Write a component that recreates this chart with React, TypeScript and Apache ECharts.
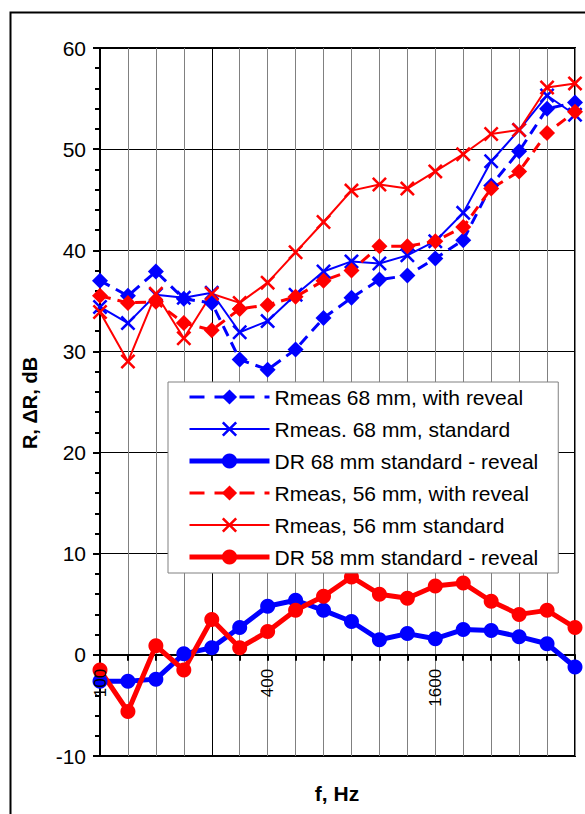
import React, { useEffect, useRef } from 'react';
import * as echarts from 'echarts';

const frequencies = ['100', '125', '160', '200', '250', '315', '400', '500', '630', '800', '1000', '1250', '1600', '2000', '2500', '3150', '4000', '5000'];
const xTickLabels = ['100', '400', '1600'];

const rmeas68Reveal = [37.0, 35.5, 37.9, 35.2, 34.8, 29.2, 28.2, 30.2, 33.3, 35.3, 37.1, 37.5, 39.2, 41.0, 46.4, 49.8, 54.0, 54.6];
const rmeas68Standard = [34.4, 32.8, 35.6, 35.3, 35.8, 31.9, 33.0, 35.6, 37.9, 38.9, 38.7, 39.5, 40.9, 43.7, 48.8, 51.9, 55.3, 53.4];
const dr68 = [-2.6, -2.6, -2.4, 0.1, 0.7, 2.7, 4.8, 5.4, 4.4, 3.3, 1.5, 2.1, 1.6, 2.5, 2.4, 1.8, 1.1, -1.2];
const rmeas56Reveal = [35.5, 34.8, 34.9, 32.8, 32.1, 34.2, 34.6, 35.4, 37.0, 38.0, 40.4, 40.4, 40.9, 42.3, 46.1, 47.8, 51.6, 53.7];
const rmeas56Standard = [33.9, 29.0, 35.7, 31.3, 35.7, 34.8, 36.8, 39.8, 42.8, 45.9, 46.5, 46.1, 47.8, 49.5, 51.5, 51.9, 56.1, 56.5];
const dr58 = [-1.5, -5.6, 0.9, -1.5, 3.5, 0.7, 2.3, 4.4, 5.8, 7.7, 6.0, 5.6, 6.8, 7.1, 5.3, 4.0, 4.4, 2.7];

const seriesNames = [
  'Rmeas 68 mm, with reveal',
  'Rmeas. 68 mm, standard',
  'DR 68 mm standard - reveal',
  'Rmeas, 56 mm, with reveal',
  'Rmeas, 56 mm standard',
  'DR 58 mm standard - reveal',
];

const yTicks = { min: -10, max: 60, interval: 10 };

const BLUE = '#0000FF';
const RED = '#FF0000';
const FONT = '"Liberation Sans", Arial, sans-serif';
const XSYM = 'path://M0,1.2L1.2,0L5,3.8L8.8,0L10,1.2L6.2,5L10,8.8L8.8,10L5,6.2L1.2,10L0,8.8L3.8,5Z';

const GRID_TOP = 48;
const GRID_BOTTOM = 58;
const CHART_H = 814;

export default function App() {
  const ref = useRef<HTMLDivElement>(null);

  useEffect(() => {
    if (!ref.current) return;
    const chart = echarts.init(ref.current, null, { renderer: 'svg' });

    const dashed = (name: string, data: number[], color: string) => ({
      name,
      type: 'line',
      data,
      symbol: 'diamond',
      symbolSize: 16,
      itemStyle: { color },
      lineStyle: { color, width: 3, type: [11, 7] },
    });
    const thin = (name: string, data: number[], color: string) => ({
      name,
      type: 'line',
      data,
      symbol: XSYM,
      symbolSize: 15,
      itemStyle: { color },
      lineStyle: { color, width: 2 },
    });
    const thick = (name: string, data: number[], color: string) => ({
      name,
      type: 'line',
      data,
      symbol: 'circle',
      symbolSize: 15,
      itemStyle: { color },
      lineStyle: { color, width: 5 },
    });

    const series: any[] = [
      dashed(seriesNames[0], rmeas68Reveal, BLUE),
      thin(seriesNames[1], rmeas68Standard, BLUE),
      thick(seriesNames[2], dr68, BLUE),
      dashed(seriesNames[3], rmeas56Reveal, RED),
      thin(seriesNames[4], rmeas56Standard, RED),
      thick(seriesNames[5], dr58, RED),
    ];
    series[0].markLine = {
      silent: true,
      symbol: 'none',
      label: { show: false },
      lineStyle: { color: '#000', width: 1, type: 'solid' },
      data: [{ xAxis: '250' }],
      z: 1,
    };

    const legendLine = [
      { width: 3, type: [15, 10] },
      { width: 2, type: 'solid' },
      { width: 5, type: 'solid' },
      { width: 3, type: [15, 10] },
      { width: 2, type: 'solid' },
      { width: 5, type: 'solid' },
    ];
    const legendColors = [BLUE, BLUE, BLUE, RED, RED, RED];

    // place the x axis on the value 0 of the y axis
    const plotH = CHART_H - GRID_TOP - GRID_BOTTOM;
    const zeroOffset = -((0 - yTicks.min) / (yTicks.max - yTicks.min)) * plotH;

    const baseGraphic: any[] = [
      {
        id: 'frame',
        type: 'rect',
        left: 8,
        top: 10,
        shape: { x: 0, y: 0, width: 700, height: 900 },
        style: { fill: 'none', stroke: '#000', lineWidth: 2 },
        silent: true,
        z: -10,
      },
      {
        id: 'yname',
        type: 'text',
        x: 30,
        y: 403,
        rotation: Math.PI / 2,
        style: {
          text: 'R, ΔR, dB',
          font: `bold 20px ${FONT}`,
          fill: '#000',
          textAlign: 'center',
          textVerticalAlign: 'middle',
        },
      },
      {
        id: 'xname',
        type: 'text',
        x: 337,
        y: 793,
        style: {
          text: 'f, Hz',
          font: `bold 21px ${FONT}`,
          fill: '#000',
          textAlign: 'center',
          textVerticalAlign: 'middle',
        },
      },
    ];

    chart.setOption({
      animation: false,
      textStyle: { fontFamily: FONT, color: '#000' },
      grid: {
        left: 100,
        right: 10,
        top: GRID_TOP,
        bottom: GRID_BOTTOM,
        show: true,
        borderColor: '#000',
        borderWidth: 2,
        backgroundColor: 'transparent',
      },
      xAxis: {
        type: 'category',
        data: frequencies,
        boundaryGap: false,
        offset: zeroOffset,
        axisLine: { show: true, onZero: false, lineStyle: { color: '#000', width: 2 } },
        axisTick: { show: true, interval: 0, length: 6, lineStyle: { color: '#000', width: 2 } },
        axisLabel: { show: false },
        splitLine: { show: true, interval: 0, lineStyle: { color: '#808080', width: 1 } },
      },
      yAxis: {
        type: 'value',
        min: yTicks.min,
        max: yTicks.max,
        interval: yTicks.interval,
        axisLine: { show: true, onZero: false, lineStyle: { color: '#000', width: 2 } },
        axisTick: { show: true, length: 7, lineStyle: { color: '#000', width: 2 } },
        minorTick: { show: true, splitNumber: 5, length: 5, lineStyle: { color: '#000', width: 2 } },
        axisLabel: { fontSize: 21, margin: 14, color: '#000', fontFamily: FONT },
        splitLine: { show: true, lineStyle: { color: '#000', width: 1 } },
      },
      legend: {
        data: seriesNames.map((name, i) => ({
          name,
          lineStyle: { color: legendColors[i], ...legendLine[i] },
          itemStyle: { color: legendColors[i] },
        })),
        orient: 'vertical',
        left: 168,
        top: 382,
        padding: [4, 20, 5, 19],
        itemWidth: 80,
        itemHeight: 19,
        itemGap: 10,
        backgroundColor: '#fff',
        borderColor: '#808080',
        borderWidth: 1,
        borderRadius: 0,
        textStyle: { fontSize: 21, lineHeight: 22, color: '#000', fontFamily: FONT },
      },
      graphic: baseGraphic,
      series,
    });

    // frequency tick labels, positioned through the axis scale, drawn above the data
    const tickGraphic = xTickLabels.map((f) => {
      const p = chart.convertToPixel({ xAxisIndex: 0, yAxisIndex: 0 }, [f, 0]) as number[];
      return {
        id: 'xtick-' + f,
        type: 'text',
        x: p[0],
        y: p[1] + 14,
        rotation: Math.PI / 2,
        z: 100,
        silent: true,
        style: {
          text: f,
          font: `17px ${FONT}`,
          fill: '#000',
          textAlign: 'right',
          textVerticalAlign: 'middle',
        },
      };
    });
    chart.setOption({ graphic: [...baseGraphic, ...tickGraphic] });

    return () => chart.dispose();
  }, []);

  return (
    <div
      ref={ref}
      style={{ position: 'fixed', left: 0, top: 0, width: 585, height: CHART_H, background: '#fff' }}
    />
  );
}
